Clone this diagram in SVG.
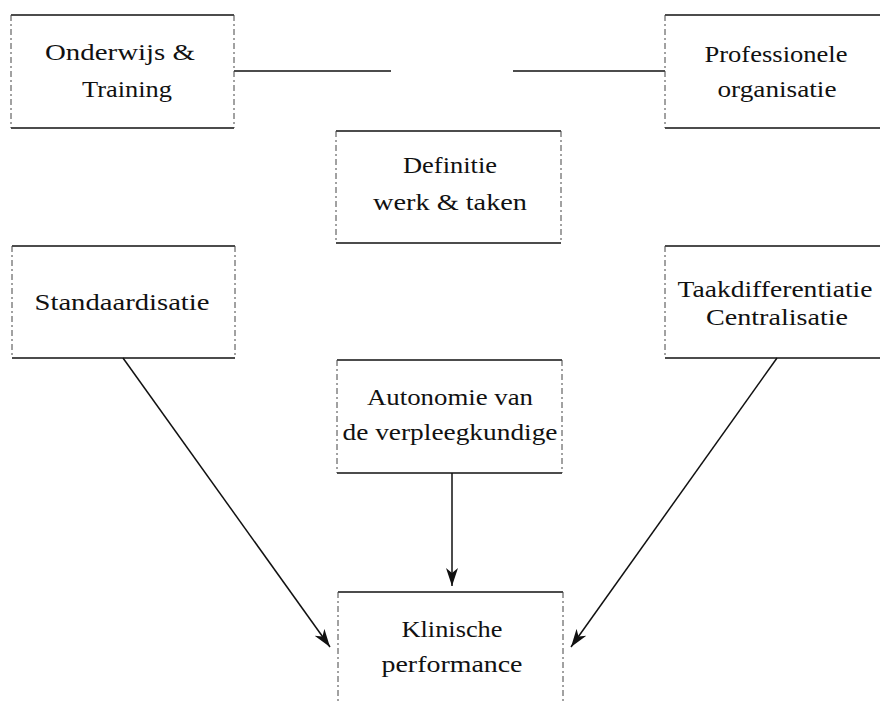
<svg xmlns="http://www.w3.org/2000/svg" width="880" height="701" viewBox="0 0 880 701">
<style>
.h{stroke:#111;stroke-width:1.6;fill:none}
.v{stroke:#444;stroke-width:1;stroke-dasharray:6 3 2 3;fill:none}
.t{font-family:"Liberation Serif","Times New Roman",serif;font-size:24px;fill:#111;text-anchor:middle}
.c{stroke:#111;stroke-width:1.5;fill:none}
</style>
<defs>
<marker id="ah" markerUnits="userSpaceOnUse" markerWidth="20" markerHeight="14" refX="18" refY="7" orient="auto">
<path d="M0,1 L18,7 L0,13 L5,7 Z" fill="#111"/>
</marker>
</defs>
<rect width="880" height="701" fill="#fff"/>
<g id="connectors">
<line class="c" x1="234" y1="71" x2="391" y2="71"/>
<line class="c" x1="513" y1="71" x2="665" y2="71"/>
<line class="c" x1="123" y1="358" x2="330" y2="647" marker-end="url(#ah)"/>
<line class="c" x1="452" y1="473" x2="452" y2="586" marker-end="url(#ah)"/>
<line class="c" x1="777" y1="358" x2="571" y2="647" marker-end="url(#ah)"/>
</g>
<g id="onderwijs">
<line class="h" x1="11" y1="15" x2="234" y2="15"/><line class="h" x1="11" y1="128" x2="234" y2="128"/>
<line class="v" x1="11" y1="15" x2="11" y2="128"/><line class="v" x1="234" y1="15" x2="234" y2="128"/>
<text class="t" x="120" y="60" textLength="150" lengthAdjust="spacingAndGlyphs">Onderwijs &amp;</text>
<text class="t" x="127" y="97" textLength="90" lengthAdjust="spacingAndGlyphs">Training</text>
</g>
<g id="professionele">
<line class="h" x1="665" y1="15" x2="880" y2="15"/><line class="h" x1="665" y1="128" x2="880" y2="128"/>
<line class="v" x1="665" y1="15" x2="665" y2="128"/>
<text class="t" x="776" y="62" textLength="143" lengthAdjust="spacingAndGlyphs">Professionele</text>
<text class="t" x="777" y="97" textLength="119" lengthAdjust="spacingAndGlyphs">organisatie</text>
</g>
<g id="definitie">
<line class="h" x1="336" y1="131" x2="561" y2="131"/><line class="h" x1="336" y1="243" x2="561" y2="243"/>
<line class="v" x1="336" y1="131" x2="336" y2="243"/><line class="v" x1="561" y1="131" x2="561" y2="243"/>
<text class="t" x="450" y="173" textLength="94" lengthAdjust="spacingAndGlyphs">Definitie</text>
<text class="t" x="450" y="210" textLength="154" lengthAdjust="spacingAndGlyphs">werk &amp; taken</text>
</g>
<g id="standaardisatie">
<line class="h" x1="12" y1="246" x2="235" y2="246"/><line class="h" x1="12" y1="358" x2="235" y2="358"/>
<line class="v" x1="12" y1="246" x2="12" y2="358"/><line class="v" x1="235" y1="246" x2="235" y2="358"/>
<text class="t" x="122" y="310" textLength="175" lengthAdjust="spacingAndGlyphs">Standaardisatie</text>
</g>
<g id="taakdifferentiatie">
<line class="h" x1="665" y1="246" x2="880" y2="246"/><line class="h" x1="665" y1="358" x2="880" y2="358"/>
<line class="v" x1="665" y1="246" x2="665" y2="358"/>
<text class="t" x="775" y="297" textLength="195" lengthAdjust="spacingAndGlyphs">Taakdifferentiatie</text>
<text class="t" x="777" y="325" textLength="142" lengthAdjust="spacingAndGlyphs">Centralisatie</text>
</g>
<g id="autonomie">
<line class="h" x1="337" y1="360" x2="562" y2="360"/><line class="h" x1="337" y1="473" x2="562" y2="473"/>
<line class="v" x1="337" y1="360" x2="337" y2="473"/><line class="v" x1="562" y1="360" x2="562" y2="473"/>
<text class="t" x="450" y="405" textLength="166" lengthAdjust="spacingAndGlyphs">Autonomie van</text>
<text class="t" x="450" y="440" textLength="215" lengthAdjust="spacingAndGlyphs">de verpleegkundige</text>
</g>
<g id="klinische">
<line class="h" x1="338" y1="592" x2="563" y2="592"/>
<line class="v" x1="338" y1="592" x2="338" y2="701"/><line class="v" x1="563" y1="592" x2="563" y2="701"/>
<text class="t" x="452" y="637" textLength="101" lengthAdjust="spacingAndGlyphs">Klinische</text>
<text class="t" x="452" y="672" textLength="141" lengthAdjust="spacingAndGlyphs">performance</text>
</g>
</svg>
